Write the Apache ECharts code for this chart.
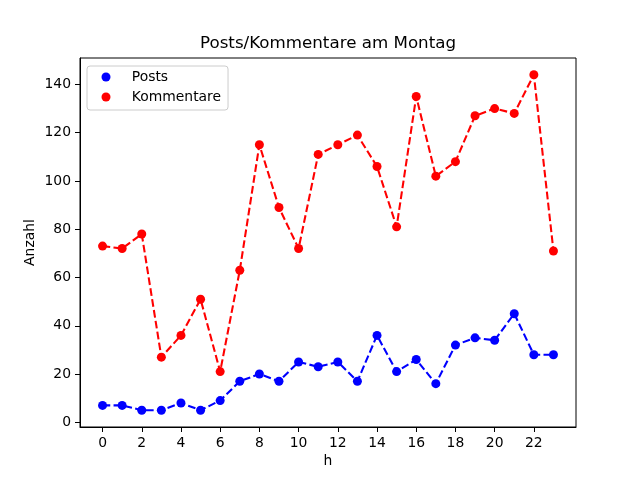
<!DOCTYPE html>
<html>
<head>
<meta charset="utf-8">
<script src="https://cdn.jsdelivr.net/npm/echarts@6/dist/echarts.min.js"></script>
<style>html,body{margin:0;padding:0;background:#fff;}#c{width:640px;height:480px;}</style>
</head>
<body>
<div id="c"></div>
<script>
const hours = [0,1,2,3,4,5,6,7,8,9,10,11,12,13,14,15,16,17,18,19,20,21,22,23];
const posts = [7,7,5,5,8,5,9,17,20,17,25,23,25,17,36,21,26,16,32,35,34,45,28,28];
const kommentare = [73,72,78,27,36,51,21,63,115,89,72,111,115,119,106,81,135,102,108,127,130,128,144,71];
const xTicks = [0,2,4,6,8,10,12,14,16,18,20,22];
const yTicks = [0,20,40,60,80,100,120,140];

const font = 'DejaVu Sans';
const chart = echarts.init(document.getElementById('c'), null, {renderer: 'canvas'});
const dash = [7.7, 3.3];
chart.setOption({
  animation: false,
  backgroundColor: '#ffffff',
  textStyle: {fontFamily: font},
  title: {
    text: 'Posts/Kommentare am Montag',
    left: 328, top: 35, textAlign: 'center', padding: 0,
    textStyle: {fontFamily: font, fontSize: 16.7, fontWeight: 'normal', color: '#000'}
  },
  legend: {
    orient: 'vertical', left: 87, top: 66,
    padding: [4, 7, 6, 14.5],
    itemWidth: 9, itemHeight: 9, itemGap: 6,
    icon: 'circle',
    borderColor: '#cccccc', borderWidth: 1, borderRadius: 3,
    backgroundColor: 'rgba(255,255,255,0.8)',
    textStyle: {fontFamily: font, fontSize: 13.9, color: '#000', lineHeight: 14, padding: [0,0,0,16.3]},
    data: ['Posts', 'Kommentare']
  },
  grid: {left: 80, right: 64, top: 58, bottom: 53, show: true, borderColor: '#000', borderWidth: 1, containLabel: false},
  xAxis: {
    type: 'value', min: -1.15, max: 24.15,
    name: 'h', nameLocation: 'middle', nameGap: 27, nameMoveOverlap: false,
    nameTextStyle: {fontFamily: font, fontSize: 13.9, color: '#000'},
    axisLine: {show: true, onZero: false, lineStyle: {color: '#000', width: 1}},
    axisTick: {show: true, length: 5, customValues: xTicks, lineStyle: {color: '#000'}},
    axisLabel: {customValues: xTicks, margin: 9, fontFamily: font, fontSize: 13.9, color: '#000'},
    splitLine: {show: false}
  },
  yAxis: {
    type: 'value', min: -1.95, max: 150.95,
    name: 'Anzahl', nameLocation: 'middle', nameGap: 43, nameRotate: 90, nameMoveOverlap: false,
    nameTextStyle: {fontFamily: font, fontSize: 13.9, color: '#000'},
    axisLine: {show: true, onZero: false, lineStyle: {color: '#000', width: 1}},
    axisTick: {show: true, length: 5, customValues: yTicks, lineStyle: {color: '#000'}},
    axisLabel: {customValues: yTicks, margin: 9, fontFamily: font, fontSize: 13.9, color: '#000'},
    splitLine: {show: false}
  },
  series: [
    {
      name: 'Posts', type: 'line',
      data: hours.map((h, i) => [h, posts[i]]),
      symbol: 'circle', symbolSize: 9, showSymbol: true,
      itemStyle: {color: '#0000ff'},
      lineStyle: {color: '#0000ff', width: 2.08, type: dash}
    },
    {
      name: 'Kommentare', type: 'line',
      data: hours.map((h, i) => [h, kommentare[i]]),
      symbol: 'circle', symbolSize: 9, showSymbol: true,
      itemStyle: {color: '#ff0000'},
      lineStyle: {color: '#ff0000', width: 2.08, type: dash}
    }
  ]
});
</script>
</body>
</html>
